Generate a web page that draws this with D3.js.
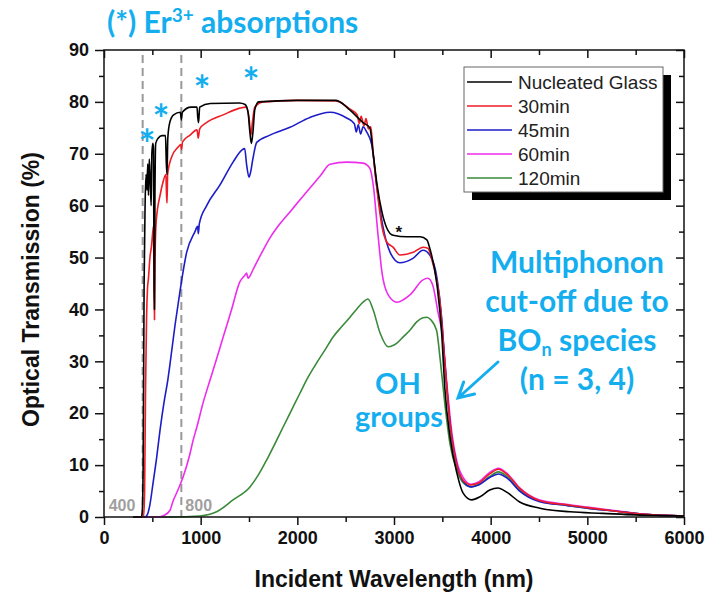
<!DOCTYPE html>
<html>
<head>
<meta charset="utf-8">
<script src="https://cdn.jsdelivr.net/npm/d3@7"></script>
<style>
  body { margin: 0; background: #fff; }
  svg { display: block; }
</style>
</head>
<body>
<div id="chart"></div>
<script>
(function () {
  // Datos: [longitud de onda (nm), transmision (%)]
  const nucleated = [
    [300, 0], [385, 0], [395, 0.8], [405, 10], [415, 45], [425, 60], [435, 66], [445, 63],
    [452, 68], [460, 62], [468, 69], [478, 65], [488, 60], [495, 70], [505, 72], [512, 71],
    [518, 45], [522, 40], [527, 62], [535, 72], [560, 73], [600, 73.5], [636, 73.5], [645, 68],
    [652, 66], [660, 73], [680, 76], [720, 77.5], [790, 78], [800, 76.5], [810, 78], [900, 79],
    [962, 79], [970, 77], [978, 76], [990, 79], [1100, 79.7], [1400, 79.8], [1460, 79.5],
    [1490, 78], [1510, 74], [1525, 72], [1540, 74], [1560, 78.5], [1600, 80], [2000, 80.3],
    [2400, 80.3], [2545, 78.4], [2680, 76], [2750, 75], [2785, 70], [2825, 64], [2875, 58.8],
    [2925, 55.7], [2990, 54.3], [3135, 54], [3270, 54], [3340, 53.4], [3370, 51.8],
    [3445, 44.7], [3495, 35], [3525, 25], [3580, 15.4], [3650, 8.5], [3715, 4.6], [3805, 3.3],
    [3890, 3.9], [3990, 5.2], [4075, 5.6], [4165, 4.8], [4300, 2.9], [4510, 1.7], [4820, 1.0],
    [5160, 0.7], [5500, 0.4], [6000, 0.2]
  ];
  const min30 = [
    [300, 0], [410, 0], [420, 5], [430, 25], [440, 38], [450, 44], [460, 46], [475, 50],
    [490, 52], [505, 55], [512, 56], [518, 44], [522, 38], [528, 50], [540, 57], [580, 62],
    [610, 64.5], [640, 66], [647, 62], [652, 60.5], [658, 66], [700, 69.4], [767, 71.3],
    [795, 71.8], [802, 70.8], [812, 72.3], [890, 73.6], [962, 74.6], [975, 73], [990, 74.8],
    [1060, 76], [1233, 77.5], [1405, 78.8], [1470, 79], [1500, 77], [1520, 73.6], [1535, 76],
    [1560, 79], [1645, 80], [2000, 80.3], [2400, 80.2], [2545, 78.6], [2620, 77.5],
    [2640, 75.8], [2660, 77.2], [2690, 75.4], [2710, 76.8], [2735, 74.8], [2760, 75.2],
    [2785, 70], [2825, 63], [2875, 56], [2925, 53], [2990, 52], [3060, 50.5], [3200, 51],
    [3300, 52], [3350, 51.8], [3400, 49], [3475, 41.4], [3525, 30], [3580, 18], [3650, 10],
    [3720, 7], [3800, 6.2], [3880, 6.6], [3990, 8.3], [4080, 9.2], [4170, 8.2], [4300, 5.5],
    [4500, 3.2], [4800, 2.3], [5000, 1.8], [5300, 1.1], [5600, 0.5], [6000, 0.2]
  ];
  const min45 = [
    [300, 0], [425, 0], [450, 0.5], [476, 2.5], [507, 6.5], [545, 11.5], [580, 16.8],
    [620, 22], [660, 26.4], [683, 29.5], [735, 37], [786, 43.5], [855, 51], [941, 55],
    [968, 56], [976, 54.6], [986, 56.5], [1062, 60], [1200, 64], [1335, 68.4], [1425, 70.7],
    [1455, 71], [1476, 67.8], [1500, 65.5], [1517, 66.5], [1540, 69], [1580, 72.2],
    [1717, 73.6], [1924, 75.1], [2130, 77], [2338, 78], [2510, 76.9], [2590, 75.8],
    [2610, 74.2], [2630, 75.6], [2655, 73.8], [2680, 75.2], [2717, 74.2], [2770, 71.7],
    [2820, 64], [2885, 56], [2960, 51], [3060, 49], [3200, 49.9], [3300, 51.4], [3370, 50.5],
    [3445, 46], [3495, 38], [3525, 30], [3580, 18], [3650, 10], [3720, 6.8], [3800, 5.8],
    [3880, 6.2], [3990, 7.6], [4080, 8.3], [4170, 7.5], [4300, 5], [4500, 3], [4800, 2.2],
    [5000, 1.7], [5300, 1.1], [5600, 0.5], [6000, 0.2]
  ];
  const min60 = [
    [300, 0], [560, 0], [620, 0.3], [683, 1.3], [713, 3], [760, 5], [820, 7.8], [880, 11.5],
    [925, 15], [960, 17.3], [1025, 22], [1097, 26.4], [1165, 30.5], [1233, 34.7], [1320, 40],
    [1405, 45.3], [1458, 46.6], [1475, 47], [1490, 46], [1505, 46.3], [1540, 47.6],
    [1620, 50.5], [1717, 53.8], [1820, 56.5], [1924, 58.8], [2030, 61.2], [2130, 63.4],
    [2240, 65.8], [2338, 68], [2510, 68.4], [2680, 68.2], [2750, 67.2], [2785, 64],
    [2835, 54.3], [2875, 47.2], [2940, 42.8], [3030, 41.4], [3165, 42.8], [3300, 45.7],
    [3350, 46], [3400, 44.7], [3455, 39.5], [3505, 34.5], [3545, 26], [3600, 16], [3660, 10],
    [3720, 7.5], [3800, 6.3], [3880, 6.8], [3990, 8.6], [4080, 9.4], [4170, 8.4], [4300, 5.6],
    [4500, 3.3], [4800, 2.4], [5000, 1.9], [5300, 1.2], [5600, 0.5], [6000, 0.2]
  ];
  const min120 = [
    [300, 0], [683, 0], [993, 0.2], [1165, 1], [1335, 3.3], [1510, 5.8], [1600, 8.2],
    [1683, 11], [1770, 14.2], [1852, 17.3], [1940, 20.6], [2028, 23.9], [2110, 26.9],
    [2200, 29.7], [2290, 32.3], [2370, 34.7], [2460, 36.7], [2545, 38.5], [2620, 40.2],
    [2680, 41.4], [2730, 42], [2785, 39.9], [2855, 35.5], [2940, 32.8], [3030, 33.5],
    [3100, 34.8], [3165, 36], [3235, 37.6], [3300, 38.4], [3340, 38.5], [3380, 38],
    [3440, 36], [3480, 30], [3525, 22], [3580, 14], [3650, 9], [3720, 6.5], [3800, 5.8],
    [3880, 6.3], [3990, 7.8], [4080, 8.7], [4170, 7.8], [4300, 5.2], [4500, 3.1], [4800, 2.2],
    [5000, 1.7], [5300, 1.1], [5600, 0.5], [6000, 0.2]
  ];

  const seriesNames = ['Nucleated Glass', '30min', '45min', '60min', '120min'];
  const seriesData = [nucleated, min30, min45, min60, min120];
  const seriesColors = ['#000000', '#ee1c24', '#1c1cc8', '#ee2cee', '#3a8a3a'];

  const xTicks = [0, 1000, 2000, 3000, 4000, 5000, 6000];
  const yTicks = [0, 10, 20, 30, 40, 50, 60, 70, 80, 90];
  const guideLines = [400, 800];
  const erMarks = [[147, 135], [161, 110], [202, 81], [251, 73]]; // posiciones en px de los asteriscos

  const WIDTH = 711;
  const HEIGHT = 595;
  const PLOT = { LEFT: 104, RIGHT: 684, TOP: 50, BOTTOM: 517 };
  const CYAN = '#14aeef';

  const svg = d3.select('#chart').append('svg')
    .attr('width', WIDTH)
    .attr('height', HEIGHT);

  const x = d3.scaleLinear().domain([0, 6000]).range([PLOT.LEFT, PLOT.RIGHT]);
  const y = d3.scaleLinear().domain([0, 90]).range([PLOT.BOTTOM, PLOT.TOP]);

  // Ejes (mayores y menores)
  const axisFont = g => g.selectAll('text')
    .style('font-family', "'Liberation Sans', Arial, sans-serif")
    .style('font-weight', 'bold')
    .style('font-size', '18px')
    .attr('fill', '#111');

  svg.append('g')
    .attr('transform', `translate(0, ${PLOT.BOTTOM})`)
    .call(d3.axisBottom(x).tickValues(xTicks).tickSize(8).tickPadding(6).tickFormat(d3.format('d')))
    .call(axisFont)
    .call(g => g.select('.domain').remove());
  svg.append('g')
    .attr('transform', `translate(0, ${PLOT.BOTTOM})`)
    .call(d3.axisBottom(x).tickValues(d3.range(500, 6000, 1000)).tickSize(5).tickFormat(''))
    .call(g => g.select('.domain').remove());

  svg.append('g')
    .attr('transform', `translate(${PLOT.LEFT}, 0)`)
    .call(d3.axisLeft(y).tickValues(yTicks).tickSize(9).tickPadding(6))
    .call(axisFont)
    .call(g => g.select('.domain').remove());
  svg.append('g')
    .attr('transform', `translate(${PLOT.LEFT}, 0)`)
    .call(d3.axisLeft(y).tickValues(d3.range(5, 90, 10)).tickSize(5).tickFormat(''))
    .call(g => g.select('.domain').remove());

  // espejo arriba y derecha, ticks hacia adentro
  svg.append('g')
    .attr('transform', `translate(0, ${PLOT.TOP})`)
    .call(d3.axisBottom(x).tickValues(xTicks).tickSize(8).tickFormat(''))
    .call(g => g.select('.domain').remove());
  svg.append('g')
    .attr('transform', `translate(0, ${PLOT.TOP})`)
    .call(d3.axisBottom(x).tickValues(d3.range(500, 6000, 1000)).tickSize(5).tickFormat(''))
    .call(g => g.select('.domain').remove());
  svg.append('g')
    .attr('transform', `translate(${PLOT.RIGHT}, 0)`)
    .call(d3.axisLeft(y).tickValues(yTicks).tickSize(8).tickFormat(''))
    .call(g => g.select('.domain').remove());
  svg.append('g')
    .attr('transform', `translate(${PLOT.RIGHT}, 0)`)
    .call(d3.axisLeft(y).tickValues(d3.range(5, 90, 10)).tickSize(5).tickFormat(''))
    .call(g => g.select('.domain').remove());

  svg.selectAll('.tick line').attr('stroke', '#111').attr('stroke-width', 1.5);

  // Lineas guia 400 y 800 nm
  svg.selectAll('.guide')
    .data(guideLines)
    .enter()
    .append('line')
    .attr('x1', d => x(d))
    .attr('x2', d => x(d))
    .attr('y1', PLOT.TOP + 5)
    .attr('y2', PLOT.BOTTOM)
    .attr('stroke', '#999')
    .attr('stroke-width', 2)
    .attr('stroke-dasharray', '8,5');

  svg.selectAll('.guide-label')
    .data(guideLines)
    .enter()
    .append('text')
    .attr('x', d => x(d) + (d === 400 ? -34 : 4))
    .attr('y', 511)
    .text(d => d)
    .style('font-family', "'Liberation Sans', Arial, sans-serif")
    .style('font-weight', 'bold')
    .style('font-size', '16px')
    .attr('fill', '#a0a0a0');

  // Curvas
  const line = d3.line()
    .x(d => x(d[0]))
    .y(d => y(d[1]))
    .curve(d3.curveMonotoneX);

  svg.append('g')
    .selectAll('path')
    .data(seriesData.slice().reverse())
    .enter()
    .append('path')
    .attr('d', line)
    .attr('fill', 'none')
    .attr('stroke', (d, i) => seriesColors[seriesData.length - 1 - i])
    .attr('stroke-width', 1.6)
    .attr('stroke-linejoin', 'round');

  // Marco
  svg.append('rect')
    .attr('x', PLOT.LEFT)
    .attr('y', PLOT.TOP)
    .attr('width', PLOT.RIGHT - PLOT.LEFT)
    .attr('height', PLOT.BOTTOM - PLOT.TOP)
    .attr('fill', 'none')
    .attr('stroke', '#111')
    .attr('stroke-width', 1.5);

  // Titulos de ejes
  svg.append('text')
    .attr('x', (PLOT.LEFT + PLOT.RIGHT) / 2)
    .attr('y', 587)
    .attr('text-anchor', 'middle')
    .text('Incident Wavelength (nm)')
    .style('font-family', "'Liberation Sans', Arial, sans-serif")
    .style('font-weight', 'bold')
    .style('font-size', '23px')
    .attr('fill', '#111');

  svg.append('text')
    .attr('transform', `translate(39, ${(PLOT.TOP + PLOT.BOTTOM) / 2 + 6}) rotate(-90)`)
    .attr('text-anchor', 'middle')
    .text('Optical Transmission (%)')
    .style('font-family', "'Liberation Sans', Arial, sans-serif")
    .style('font-weight', 'bold')
    .style('font-size', '23px')
    .attr('fill', '#111');

  // Leyenda con sombra
  const LEG = { X: 464, Y: 67, W: 199, H: 125, ROW: 24 };
  svg.append('rect')
    .attr('x', LEG.X + 8).attr('y', LEG.Y + 8)
    .attr('width', LEG.W).attr('height', LEG.H)
    .attr('fill', '#000');
  svg.append('rect')
    .attr('x', LEG.X).attr('y', LEG.Y)
    .attr('width', LEG.W).attr('height', LEG.H)
    .attr('fill', '#fff')
    .attr('stroke', '#666')
    .attr('stroke-width', 1);

  const legendRows = svg.selectAll('.legend-row')
    .data(seriesNames)
    .enter()
    .append('g')
    .attr('transform', (d, i) => `translate(${LEG.X}, ${LEG.Y + 15 + i * LEG.ROW})`);
  legendRows.append('line')
    .attr('x1', 3).attr('x2', 48)
    .attr('stroke', (d, i) => seriesColors[i])
    .attr('stroke-width', 1.6);
  legendRows.append('text')
    .attr('x', 54)
    .attr('y', 7)
    .text(d => d)
    .style('font-family', "'Liberation Sans', Arial, sans-serif")
    .style('font-size', '19px')
    .attr('fill', '#222');

  // Anotaciones
  const annotFont = sel => sel
    .style('font-family', "Lato, 'Open Sans', sans-serif")
    .style('font-weight', 'bold')
    .attr('fill', CYAN);

  const title = svg.append('text').attr('x', 107).attr('y', 33).style('font-size', '30px').call(annotFont);
  title.append('tspan').text('(*) Er');
  title.append('tspan').attr('dy', -11).style('font-size', '19px').text('3+');
  title.append('tspan').attr('dy', 11).text(' absorptions');

  svg.selectAll('.er-mark')
    .data(erMarks)
    .enter()
    .append('text')
    .attr('x', d => d[0])
    .attr('y', d => d[1] + 24)
    .attr('text-anchor', 'middle')
    .text('*')
    .style('font-size', '40px')
    .call(annotFont);

  svg.append('text')
    .attr('x', x(3050))
    .attr('y', 238)
    .attr('text-anchor', 'middle')
    .text('*')
    .style('font-family', "'Liberation Sans', Arial, sans-serif")
    .style('font-weight', 'bold')
    .style('font-size', '17px')
    .attr('fill', '#111');

  const multi = ['Multiphonon', 'cut-off due to', null, '(n = 3, 4)'];
  multi.forEach((t, i) => {
    const txt = svg.append('text')
      .attr('x', 577)
      .attr('y', 273 + i * 39)
      .attr('text-anchor', 'middle')
      .style('font-size', '30px')
      .call(annotFont);
    if (t) {
      txt.text(t);
    } else {
      txt.append('tspan').text('BO');
      txt.append('tspan').attr('dy', 5).style('font-size', '18px').text('n');
      txt.append('tspan').attr('dy', -5).text(' species');
    }
  });

  svg.append('text').attr('x', 398).attr('y', 394).attr('text-anchor', 'middle')
    .style('font-size', '29px').call(annotFont).text('OH');
  svg.append('text').attr('x', 399).attr('y', 427).attr('text-anchor', 'middle')
    .style('font-size', '29px').call(annotFont).text('groups');

  // Flecha
  const from = [498, 362];
  const tip = [458, 398];
  const ang = Math.atan2(from[1] - tip[1], from[0] - tip[0]);
  const wing = 17;
  const w1 = [tip[0] + wing * Math.cos(ang - 0.5), tip[1] + wing * Math.sin(ang - 0.5)];
  const w2 = [tip[0] + wing * Math.cos(ang + 0.5), tip[1] + wing * Math.sin(ang + 0.5)];
  svg.append('path')
    .attr('d', `M ${from[0]} ${from[1]} L ${tip[0]} ${tip[1]} M ${w1[0]} ${w1[1]} L ${tip[0]} ${tip[1]} L ${w2[0]} ${w2[1]}`)
    .attr('fill', 'none')
    .attr('stroke', CYAN)
    .attr('stroke-width', 3)
    .attr('stroke-linecap', 'round');
})()
</script>
</body>
</html>
